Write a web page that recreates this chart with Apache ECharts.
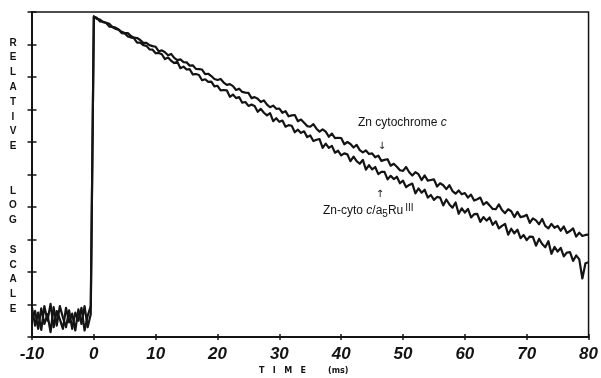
<!DOCTYPE html>
<html>
<head>
<meta charset="utf-8">
<script src="https://cdn.jsdelivr.net/npm/echarts@6/dist/echarts.min.js"></script>
<style>
  html, body { margin: 0; padding: 0; background: #fff; }
  #chart { width: 601px; height: 378px; }
</style>
</head>
<body>
<div id="chart"></div>
<script>
// Sampling grid of the recorded traces (ms)
const tStart = -10;
const tStep = 0.5;

// Axis ticks
const xTicks = [-10, 0, 10, 20, 30, 40, 50, 60, 70, 80];
const yMin = 0, yMax = 10, yStep = 1;

// Relative log signal, Zn cytochrome c (t = -10 ... 80 ms)
const znCytC = [
  // pre-flash baseline, -10 ... -0.5
  0.90, 0.35, 0.75, 0.22, 0.95, 0.50, 1.02, 0.30, 0.80, 0.55,
  0.25, 0.90, 0.45, 0.72, 0.20, 0.85, 0.40, 0.95, 0.30, 0.70,
  // decay, 0 ... 79.5
  9.87, 9.79, 9.77, 9.69, 9.67, 9.64, 9.54, 9.52, 9.46, 9.39,
  9.35, 9.35, 9.26, 9.21, 9.20, 9.14, 9.05, 9.05, 8.98, 8.95,
  8.93, 8.79, 8.82, 8.76, 8.67, 8.71, 8.59, 8.52, 8.54, 8.46,
  8.45, 8.35, 8.36, 8.25, 8.24, 8.23, 8.09, 8.10, 8.03, 7.94,
  7.91, 7.94, 7.83, 7.76, 7.78, 7.72, 7.60, 7.64, 7.54, 7.52,
  7.51, 7.35, 7.38, 7.33, 7.23, 7.28, 7.15, 7.07, 7.12, 7.02,
  7.03, 6.90, 6.95, 6.79, 6.82, 6.83, 6.64, 6.69, 6.59, 6.49,
  6.47, 6.55, 6.41, 6.32, 6.39, 6.32, 6.16, 6.26, 6.12, 6.13,
  6.12, 5.93, 6.00, 5.94, 5.83, 5.91, 5.75, 5.68, 5.74, 5.63,
  5.65, 5.53, 5.58, 5.42, 5.45, 5.47, 5.27, 5.33, 5.24, 5.13,
  5.11, 5.23, 5.07, 4.97, 5.07, 5.01, 4.83, 4.97, 4.81, 4.83,
  4.85, 4.63, 4.73, 4.67, 4.55, 4.67, 4.49, 4.41, 4.51, 4.39,
  4.43, 4.29, 4.38, 4.20, 4.24, 4.29, 4.07, 4.15, 4.05, 3.94,
  3.93, 4.08, 3.91, 3.81, 3.93, 3.87, 3.69, 3.85, 3.69, 3.71,
  3.76, 3.51, 3.65, 3.59, 3.47, 3.63, 3.42, 3.34, 3.48, 3.36,
  3.42, 3.27, 3.40, 3.20, 3.26, 3.34, 3.09, 3.21, 3.11, 3.14,
  // 80
  3.15
];

// Relative log signal, Zn-cyto c/a5Ru(III) (t = -10 ... 80 ms)
const znCytRu = [
  // pre-flash baseline, -10 ... -0.5
  0.50, 0.80, 0.25, 0.88, 0.40, 0.70, 0.15, 0.92, 0.35, 0.95,
  0.60, 0.30, 0.82, 0.25, 0.75, 0.50, 0.90, 0.20, 0.65, 0.95,
  // decay, 0 ... 79.5
  9.85, 9.82, 9.71, 9.70, 9.66, 9.55, 9.54, 9.48, 9.46, 9.35,
  9.34, 9.25, 9.22, 9.19, 9.06, 9.06, 8.98, 8.96, 8.85, 8.84,
  8.73, 8.74, 8.70, 8.55, 8.60, 8.50, 8.43, 8.47, 8.27, 8.32,
  8.23, 8.24, 8.08, 8.09, 8.06, 7.90, 7.93, 7.85, 7.86, 7.71,
  7.73, 7.59, 7.60, 7.59, 7.39, 7.46, 7.35, 7.38, 7.21, 7.23,
  7.11, 7.15, 7.11, 6.93, 7.02, 6.90, 6.82, 6.89, 6.64, 6.73,
  6.62, 6.66, 6.47, 6.52, 6.50, 6.30, 6.38, 6.28, 6.33, 6.15,
  6.20, 6.03, 6.07, 6.09, 5.82, 5.95, 5.82, 5.88, 5.67, 5.73,
  5.59, 5.65, 5.62, 5.41, 5.55, 5.41, 5.33, 5.45, 5.15, 5.29,
  5.16, 5.23, 5.01, 5.08, 5.08, 4.85, 4.96, 4.86, 4.93, 4.73,
  4.81, 4.61, 4.68, 4.72, 4.42, 4.57, 4.44, 4.53, 4.29, 4.37,
  4.22, 4.31, 4.29, 4.05, 4.23, 4.08, 3.98, 4.14, 3.79, 3.96,
  3.83, 3.94, 3.68, 3.78, 3.79, 3.54, 3.69, 3.58, 3.68, 3.45,
  3.56, 3.34, 3.42, 3.48, 3.15, 3.33, 3.19, 3.30, 3.04, 3.14,
  2.98, 3.09, 3.08, 2.81, 3.02, 2.86, 2.76, 2.95, 2.56, 2.77,
  2.63, 2.74, 2.48, 2.60, 2.61, 2.34, 2.51, 2.39, 1.80, 2.27,
  // 80
  2.30
];

const yTitle = ['R','E','L','A','T','I','V','E','','','L','O','G','','S','C','A','L','E'];

function toPairs(values) {
  return values.map((v, i) => [tStart + i * tStep, v]);
}

const ink = '#141414';
const chart = echarts.init(document.getElementById('chart'), null, { renderer: 'canvas' });

const tickStyle = { color: ink, width: 1.5 };

chart.setOption({
  animation: false,
  backgroundColor: '#ffffff',
  grid: {
    left: 32, right: 9, top: 12, bottom: 41,
    show: true, borderColor: ink, borderWidth: 1.5, backgroundColor: 'transparent'
  },
  xAxis: [
    {
      // axis line and labels
      type: 'value', min: xTicks[0], max: xTicks[xTicks.length - 1], interval: 10,
      axisLine: { onZero: false, lineStyle: { color: ink, width: 2 } },
      axisTick: { show: false },
      axisLabel: {
        color: ink, fontSize: 17, fontStyle: 'italic', fontWeight: 'bold',
        fontFamily: 'Liberation Sans', margin: 9
      },
      splitLine: { show: false }
    },
    {
      // cross ticks straddling the axis line
      type: 'value', min: xTicks[0], max: xTicks[xTicks.length - 1], interval: 10,
      position: 'bottom', offset: -3,
      axisLine: { show: false, onZero: false },
      axisTick: { show: true, length: 6, lineStyle: tickStyle },
      axisLabel: { show: false },
      splitLine: { show: false }
    }
  ],
  yAxis: [
    {
      type: 'value', min: yMin, max: yMax, interval: yStep,
      axisLine: { onZero: false, lineStyle: { color: ink, width: 2 } },
      axisTick: { show: false },
      axisLabel: { show: false },
      splitLine: { show: false }
    },
    {
      type: 'value', min: yMin, max: yMax, interval: yStep,
      position: 'left', offset: -4.5,
      axisLine: { show: false, onZero: false },
      axisTick: { show: true, length: 9, lineStyle: tickStyle },
      axisLabel: { show: false },
      splitLine: { show: false }
    }
  ],
  graphic: [
    {
      type: 'text', x: 13, y: 35.5, silent: true,
      style: {
        text: yTitle.join('\n'), fill: ink, align: 'center', verticalAlign: 'top',
        font: 'bold 10px "Liberation Sans"', lineHeight: 14.8
      }
    },
    {
      type: 'text', x: 259, y: 371, silent: true,
      style: { text: 'T   I   M   E', fill: ink, verticalAlign: 'middle', font: 'bold 8px "DejaVu Sans"' }
    },
    {
      type: 'text', x: 328, y: 371, silent: true,
      style: { text: '(ms)', fill: ink, verticalAlign: 'middle', font: 'bold 8px "DejaVu Sans"' }
    },
    {
      type: 'text', x: 358, y: 123, silent: true,
      style: {
        text: '{n|Zn cytochrome }{i|c}', verticalAlign: 'middle',
        rich: {
          n: { fill: ink, fontSize: 12, fontFamily: 'Liberation Sans' },
          i: { fill: ink, fontSize: 12, fontFamily: 'Liberation Sans', fontStyle: 'italic' }
        }
      }
    },
    {
      type: 'text', x: 382, y: 146, silent: true,
      style: { text: '↓', fill: ink, align: 'center', verticalAlign: 'middle', font: '10px "DejaVu Sans"' }
    },
    {
      type: 'text', x: 380, y: 194, silent: true,
      style: { text: '↑', fill: ink, align: 'center', verticalAlign: 'middle', font: '10px "DejaVu Sans"' }
    },
    {
      type: 'text', x: 323, y: 211, silent: true,
      style: {
        text: '{n|Zn-cyto }{i|c}{n|/a}{sub|5}{n|Ru}{sup|III}', verticalAlign: 'middle',
        rich: {
          n: { fill: ink, fontSize: 12, fontFamily: 'Liberation Sans', lineHeight: 16 },
          i: { fill: ink, fontSize: 12, fontFamily: 'Liberation Sans', fontStyle: 'italic', lineHeight: 16 },
          sub: { fill: ink, fontSize: 10, fontFamily: 'Liberation Sans', verticalAlign: 'bottom', lineHeight: 16 },
          sup: { fill: ink, fontSize: 10, fontFamily: 'Liberation Sans', verticalAlign: 'top', lineHeight: 16, padding: [0, 0, 0, 2] }
        }
      }
    }
  ],
  series: [
    {
      name: 'Zn cytochrome c', type: 'line', xAxisIndex: 0, yAxisIndex: 0,
      data: toPairs(znCytC), showSymbol: false, symbol: 'none',
      lineStyle: { color: ink, width: 2.2, join: 'round' }
    },
    {
      name: 'Zn-cyto c/a5RuIII', type: 'line', xAxisIndex: 0, yAxisIndex: 0,
      data: toPairs(znCytRu), showSymbol: false, symbol: 'none',
      lineStyle: { color: ink, width: 2.2, join: 'round' }
    }
  ]
});
</script>
</body>
</html>
